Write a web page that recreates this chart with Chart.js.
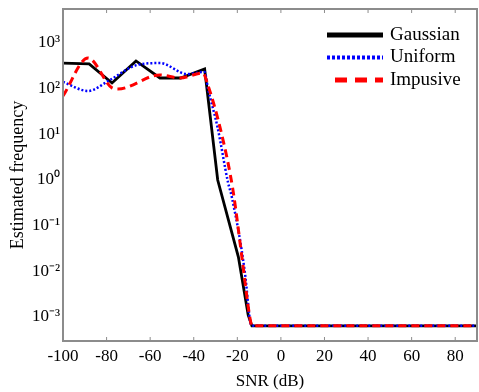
<!DOCTYPE html>
<html>
<head>
<meta charset="utf-8">
<script src="https://cdn.jsdelivr.net/npm/chart.js@4/dist/chart.umd.min.js"></script>
<style>
  body { margin: 0; background: #fff; }
  #wrap { width: 479px; height: 392px; }
</style>
</head>
<body>
<div id="wrap"><canvas id="chart" width="479" height="392"></canvas></div>
<script>
// series data
const snrGaussian = [-100, -88, -77.5, -66.5, -55.5, -46, -35, -29, -19.5, -15, -13.3, 90];
const freqGaussian = [363, 347, 133, 404, 171, 171, 269, 1.0, 0.0206, 0.0011, 0.00064, 0.00064];

const snrUniform = [-100, -88.5, -78.5, -66, -55.5, -43, -35, -33.5, -29, -24.3, -22.5, -16.5, -14.2, -13.3, 90];
const freqUniform = [140, 89, 155, 330, 363, 209, 232, 103, 13.8, 0.9, 0.42, 0.0092, 0.00086, 0.00064, 0.00064];

const snrImpulsive = [-100, -88.5, -77.5, -74.8, -55.5, -46.3, -35.8, -33.5, -27.1, -22, -17.9, -14.2, -13.3, 90];
const freqImpulsive = [69, 468, 104, 98, 200, 171, 220, 120, 9.7, 0.6, 0.0206, 0.00095, 0.00064, 0.00064];

const seriesNames = ['Gaussian', 'Uniform', 'Impusive'];

// axis ticks
const xTicks = [-100, -80, -60, -40, -20, 0, 20, 40, 60, 80];
const yTicks = [1e-3, 1e-2, 1e-1, 1e0, 1e1, 1e2, 1e3];
const yTickLabels = ['10⁻³', '10⁻²', '10⁻¹', '10⁰', '10¹', '10²', '10³'];

const pts = (xs, ys) => xs.map((x, i) => ({ x: x, y: ys[i] }));

const serif = "'Liberation Serif', 'Times New Roman', serif";

// frame around the plot plus little inward ticks
const framePlugin = {
  id: 'frame',
  afterDraw(chart) {
    const { ctx, chartArea: a } = chart;
    const xs = chart.scales.x;
    ctx.save();
    ctx.strokeStyle = '#8c8c8c';
    ctx.lineWidth = 2;
    ctx.strokeRect(a.left, a.top, a.right - a.left, a.bottom - a.top);
    ctx.lineWidth = 1;
    xTicks.forEach(v => {
      const px = xs.getPixelForValue(v);
      ctx.beginPath();
      ctx.moveTo(px, a.bottom); ctx.lineTo(px, a.bottom - 4);
      ctx.moveTo(px, a.top); ctx.lineTo(px, a.top + 4);
      ctx.stroke();
    });
    ctx.restore();
  }
};

// legend drawn in the upper right corner of the plot
const legendPlugin = {
  id: 'cornerLegend',
  afterDraw(chart) {
    const { ctx, chartArea: a } = chart;
    const rows = [
      { w: 5, dash: [], color: '#000000' },
      { w: 4, dash: [3, 2], color: '#0000ff' },
      { w: 5, dash: [12, 8], color: '#ff0000' }
    ];
    ctx.save();
    rows.forEach((r, i) => {
      const y = a.top + 26 + i * 22.5;
      ctx.beginPath();
      ctx.setLineDash(r.dash);
      ctx.lineDashOffset = i === 2 ? -8 : 0;
      ctx.strokeStyle = r.color;
      ctx.lineWidth = r.w;
      ctx.moveTo(a.right - 150, y);
      ctx.lineTo(a.right - 94, y);
      ctx.stroke();
      ctx.setLineDash([]);
      ctx.fillStyle = '#000';
      ctx.font = '19px ' + serif;
      ctx.textBaseline = 'middle';
      ctx.textAlign = 'left';
      ctx.fillText(seriesNames[i], a.right - 87, y);
    });
    ctx.restore();
  }
};

new Chart(document.getElementById('chart'), {
  type: 'line',
  data: {
    datasets: [
      {
        label: seriesNames[0],
        data: pts(snrGaussian, freqGaussian),
        borderColor: '#000000',
        borderWidth: 2.8,
        pointRadius: 0,
        order: 3
      },
      {
        label: seriesNames[1],
        data: pts(snrUniform, freqUniform),
        borderColor: '#0000ff',
        borderWidth: 2.5,
        borderDash: [2, 2],
        pointRadius: 0,
        cubicInterpolationMode: 'monotone',
        order: 2
      },
      {
        label: seriesNames[2],
        data: pts(snrImpulsive, freqImpulsive),
        borderColor: '#ff0000',
        borderWidth: 3,
        borderDash: [8, 5],
        pointRadius: 0,
        cubicInterpolationMode: 'monotone',
        order: 1
      }
    ]
  },
  options: {
    responsive: false,
    devicePixelRatio: 1,
    animation: false,
    layout: { padding: { top: 9, right: 2, left: 0, bottom: 0 } },
    plugins: {
      legend: { display: false },
      tooltip: { enabled: false }
    },
    scales: {
      x: {
        type: 'linear',
        min: -100,
        max: 90,
        afterBuildTicks: s => { s.ticks = xTicks.map(v => ({ value: v })); },
        afterFit: s => { s.height = 51; s.paddingLeft = 0; s.paddingRight = 0; },
        grid: { display: false, drawTicks: false },
        border: { display: false },
        ticks: {
          padding: 5,
          color: '#000',
          font: { family: serif, size: 17 }
        },
        title: {
          display: true,
          text: 'SNR (dB)',
          color: '#000',
          padding: { top: 7, bottom: 0 },
          font: { family: serif, size: 17 }
        }
      },
      y: {
        type: 'logarithmic',
        min: Math.pow(10, -3.525),
        max: Math.pow(10, 3.744),
        afterBuildTicks: s => { s.ticks = yTicks.map(v => ({ value: v })); },
        afterFit: s => { s.width = 63; s.paddingTop = 0; s.paddingBottom = 0; },
        grid: { display: false, drawTicks: false },
        border: { display: false },
        ticks: {
          padding: 3,
          color: '#000',
          font: { family: serif, size: 17 },
          callback: v => {
            const i = yTicks.findIndex(t => Math.abs(Math.log10(t) - Math.log10(v)) < 1e-6);
            return i >= 0 ? yTickLabels[i] : '';
          }
        },
        title: {
          display: true,
          text: 'Estimated frequency',
          color: '#000',
          padding: { top: 7, bottom: 0 },
          font: { family: serif, size: 18 }
        }
      }
    }
  },
  plugins: [framePlugin, legendPlugin]
});
</script>
</body>
</html>
